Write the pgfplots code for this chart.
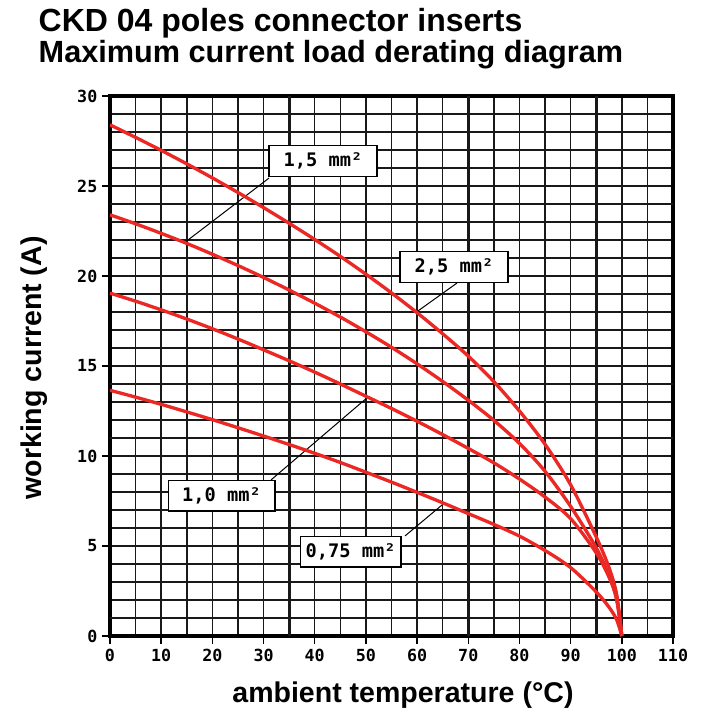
\documentclass[border=0pt]{standalone}
\usepackage{fontspec}
\usepackage{pgfplots}
\pgfplotsset{compat=1.18}
\setmainfont{Liberation Sans}
\newfontfamily\tickfont{DejaVu Sans Mono}
\definecolor{curvered}{RGB}{236,40,36}
\definecolor{gridblack}{RGB}{25,25,25}
\tikzset{curve/.style={curvered, line width=2.5pt, smooth, tension=0.5, no marks}}

\begin{document}
\begin{tikzpicture}
\begin{axis}[
  at={(0,0)}, anchor=south west,
  scale only axis,
  width=422.25pt, height=405pt,
  xmin=0, xmax=110, ymin=0, ymax=30,
  xtick={0,10,...,110}, ytick={0,5,...,30},
  minor xtick={0,5,...,110}, minor ytick={0,1,...,30},
  tick pos=left, tick align=outside,
  major tick length=6pt, minor tick length=0pt,
  every tick/.style={black, line width=1.1pt},
  xminorgrids, yminorgrids,
  minor grid style={gridblack, line width=1.1pt},
  major grid style={gridblack, line width=2.1pt},
  extra x ticks={35,70,95}, extra y ticks={1,11,14,24,27},
  extra x tick labels={}, extra y tick labels={},
  extra tick style={grid=major, major tick length=0pt},
  axis line style={black, line width=2.3pt},
  /pgf/number format/assume math mode=true,
  tick label style={font=\tickfont\bfseries\fontsize{12.5pt}{14pt}\selectfont},
  xlabel={ambient temperature (°C)},
  ylabel={working current (A)},
  every axis x label/.style={at={(axis description cs:0.5204,-0.124)}, anchor=base,
    font=\bfseries\fontsize{21.4pt}{24pt}\selectfont},
  every axis y label/.style={at={(axis description cs:-0.1208,0.4963)}, rotate=90, anchor=base,
    font=\bfseries\fontsize{21.4pt}{24pt}\selectfont},
]
  % callout lines
  \draw[black, line width=0.75pt] (axis cs:31.07,25.44) -- (axis cs:14.46,21.83);
  \draw[black, line width=0.75pt] (axis cs:67.8,19.61) -- (axis cs:60.18,18.06);
  \draw[black, line width=0.75pt] (axis cs:31.46,8.67) -- (axis cs:50.41,13.28);
  \draw[black, line width=0.75pt] (axis cs:57.64,5.56) -- (axis cs:64.87,7.28);

  % 2,5 mm2
  \addplot[curve] coordinates {
    (0,28.4) (5,27.7) (10,26.98) (15,26.23) (20,25.45) (25,24.64) (30,23.8)
    (35,22.93) (40,22.03) (45,21.09) (50,20.1) (55,19.06) (60,17.96)
    (65,16.79) (70,15.55) (75,14.13) (80,12.5) (85,10.65) (90,8.4)
    (95,5.5) (97.5,3.8) (99,2.3) (100,0)
  };
  % 1,5 mm2
  \addplot[curve] coordinates {
    (0,23.4) (5,22.9) (10,22.37) (15,21.81) (20,21.21) (25,20.58) (30,19.92)
    (35,19.22) (40,18.49) (45,17.72) (50,16.9) (55,16.04) (60,15.12)
    (65,14.14) (70,13.1) (75,11.98) (80,10.7) (85,9.15) (90,7.2)
    (95,4.9) (97.5,3.35) (99,2.0) (100,0)
  };
  % 1,0 mm2
  \addplot[curve] coordinates {
    (0,19.05) (5,18.6) (10,18.12) (15,17.61) (20,17.07) (25,16.5) (30,15.9)
    (35,15.29) (40,14.66) (45,14.0) (50,13.32) (55,12.64) (60,11.93)
    (65,11.19) (70,10.42) (75,9.62) (80,8.72) (85,7.72) (90,6.52)
    (95,4.62) (97.5,3.27) (99,2.07) (100,0)
  };
  % 0,75 mm2
  \addplot[curve] coordinates {
    (0,13.65) (5,13.27) (10,12.87) (15,12.45) (20,12.02) (25,11.57) (30,11.11)
    (35,10.64) (40,10.15) (45,9.64) (50,9.1) (55,8.55) (60,7.98)
    (65,7.4) (70,6.8) (75,6.2) (80,5.55) (85,4.75) (90,3.8)
    (95,2.45) (97.5,1.6) (99,0.9) (100,0)
  };

  % callout boxes
  \tikzset{callout/.style={draw=black, fill=white, line width=1pt,
      inner xsep=4pt, inner ysep=3pt, minimum height=23pt,
      font=\tickfont\bfseries\fontsize{14pt}{16pt}\selectfont}}
  \node[callout, minimum width=81pt] at (axis cs:41.6,26.39) {1,5 mm²};
  \node[callout, minimum width=81pt] at (axis cs:67.2,20.5) {2,5 mm²};
  \node[callout, minimum width=80pt] at (axis cs:21.8,7.8) {1,0 mm²};
  \node[callout] at (axis cs:47.0,4.69) {0,75 mm²};
\end{axis}
\node[anchor=base west, font=\bfseries\fontsize{24pt}{28pt}\selectfont]
  at (-57pt,453pt) {CKD 04 poles connector inserts};
\node[anchor=base west, font=\bfseries\fontsize{23pt}{27pt}\selectfont]
  at (-57pt,429.75pt) {Maximum current load derating diagram};
\pgfresetboundingbox
\path[use as bounding box] (-82.5pt,-61.5pt) rectangle (446.25pt,477pt);
\end{tikzpicture}
\end{document}
